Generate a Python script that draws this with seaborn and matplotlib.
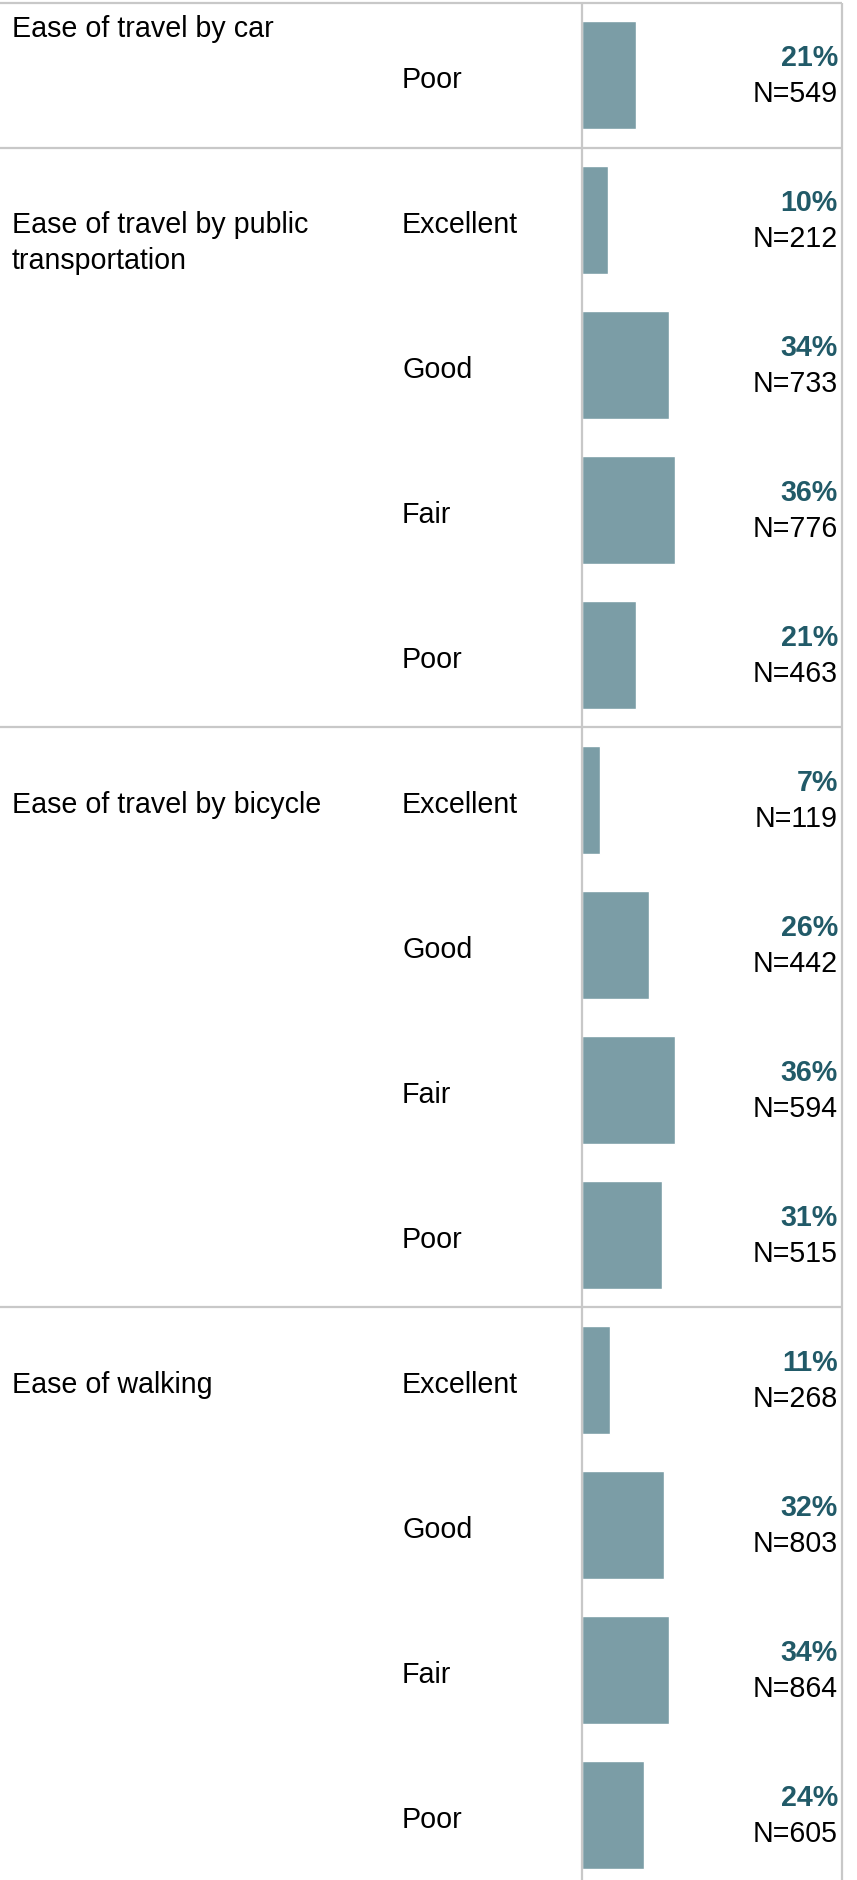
import matplotlib
matplotlib.use("Agg")
import matplotlib.pyplot as plt
import seaborn as sns
import pandas as pd

# Survey results: mobility ratings
groups = [
    "Ease of travel by car",
    "Ease of travel by public\ntransportation",
    "Ease of travel by bicycle",
    "Ease of walking",
]
group_of_row = [0, 1, 1, 1, 1, 2, 2, 2, 2, 3, 3, 3, 3]
ratings = ["Poor",
           "Excellent", "Good", "Fair", "Poor",
           "Excellent", "Good", "Fair", "Poor",
           "Excellent", "Good", "Fair", "Poor"]
percents = [21, 10, 34, 36, 21, 7, 26, 36, 31, 11, 32, 34, 24]
counts = [549, 212, 733, 776, 463, 119, 442, 594, 515, 268, 803, 864, 605]

df = pd.DataFrame({
    "row": [f"{g}|{r}|{i}" for i, (g, r) in enumerate(zip(group_of_row, ratings))],
    "rating": ratings,
    "pct": percents,
    "n": counts,
})

sns.set_theme(style="white")
plt.rcParams["font.family"] = ["Liberation Sans", "DejaVu Sans"]

W, H, DPI = 857, 1881, 100
fig = plt.figure(figsize=(W / DPI, H / DPI), dpi=DPI)
ax = fig.add_axes([0, 0, 1, 1])

BAR = "#7b9da6"
PCT = "#215a68"
GRID = "#c8c8c8"
FS = 20.6

sns.barplot(data=df, x="pct", y="row", orient="h", color=BAR,
            width=0.75, saturation=1, ax=ax, order=list(df["row"]))

# horizontal scale: bar origin at pixel column 582, 2.57 px per percent
x0_px, ppp = 582, 2.57
ax.set_xlim(-x0_px / ppp, (W - x0_px) / ppp)
# vertical scale: 145 px per row, first row centred at y=76 px
y0_px, ppr = 76, 145
ax.set_ylim((H - y0_px) / ppr, -y0_px / ppr)
ax.set_axis_off()


def px_x(p):
    return (p - x0_px) / ppp


right_edge = px_x(842)
left_edge = px_x(0)

# table rules
for yb in [-0.5, 0.5, 4.5, 8.5]:
    ax.plot([left_edge, right_edge], [yb, yb], color=GRID, lw=1.6,
            solid_capstyle="butt", zorder=3)
for xv in [0, right_edge]:
    ax.plot([xv, xv], [-0.5, 13], color=GRID, lw=1.6,
            solid_capstyle="butt", zorder=3)

DY = 0.028  # baseline nudge so glyphs sit centred on their row

# group headings
first_row = {}
for i, g in enumerate(group_of_row):
    first_row.setdefault(g, i)
for g, label in enumerate(groups):
    yy = first_row[g] if g > 0 else -0.355
    for k, line in enumerate(label.split("\n")):
        ax.text(px_x(12), yy + DY + 0.246 * k, line, ha="left", va="center",
                fontsize=FS, color="black")

# rating names, percentages and counts
for i, r in df.iterrows():
    ax.text(px_x(402), i + DY, r["rating"], ha="left", va="center",
            fontsize=FS, color="black")
    ax.text(px_x(838), i - 0.122, f"{r['pct']}%", ha="right", va="center",
            fontsize=FS, color=PCT, fontweight="bold")
    ax.text(px_x(838), i + 0.122, f"N={r['n']}", ha="right", va="center",
            fontsize=FS, color="black")

fig.savefig("out.png", dpi=DPI, facecolor="white")
